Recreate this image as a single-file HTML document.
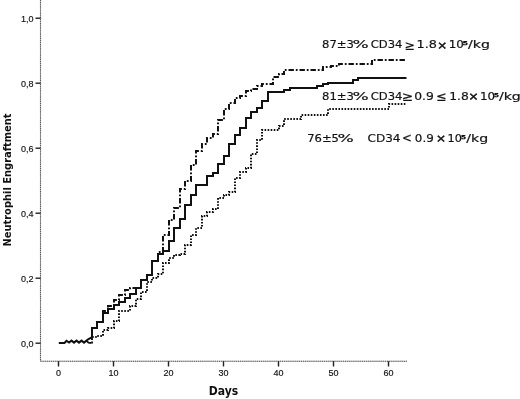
<!DOCTYPE html>
<html><head><meta charset="utf-8"><title>Neutrophil Engraftment</title>
<style>
html,body{margin:0;padding:0;background:#fff;}
svg{display:block;}
.t{font-family:"Liberation Sans",sans-serif;font-size:9px;fill:#111;stroke:#111;stroke-width:0.15px;}
.b{font-family:"DejaVu Sans Condensed","DejaVu Sans","Liberation Sans",sans-serif;font-weight:bold;fill:#111;}
.l{font-family:"DejaVu Sans","Liberation Sans",sans-serif;fill:#111;stroke:#111;stroke-width:0.18px;}
.s{font-family:"DejaVu Sans","Liberation Sans",sans-serif;font-size:7px;fill:#111;}
</style></head><body>
<svg width="520" height="399" viewBox="0 0 520 399">
<rect width="520" height="399" fill="#fff"/>
<g fill="none" stroke-width="1.1">
<path d="M40.5 0 V361.2 H407" stroke="#b5b5b5"/>
<path d="M40.5 0 V361.2 H407" stroke="#5a5a5a" stroke-dasharray="1.1 1"/>
</g>
<g stroke="#222" stroke-width="1.4" fill="none">
<path d="M35.5 18.2 H40.5"/>
<path d="M35.5 83.2 H40.5"/>
<path d="M35.5 148.2 H40.5"/>
<path d="M35.5 213.2 H40.5"/>
<path d="M35.5 278.2 H40.5"/>
<path d="M35.5 343.2 H40.5"/>
<path d="M58.5 361.2 V366.5"/>
<path d="M113.5 361.2 V366.5"/>
<path d="M168.5 361.2 V366.5"/>
<path d="M223.5 361.2 V366.5"/>
<path d="M278.5 361.2 V366.5"/>
<path d="M333.5 361.2 V366.5"/>
<path d="M388.5 361.2 V366.5"/>
</g>
<text class="t" x="33.5" y="21.5" text-anchor="end">1,0</text>
<text class="t" x="33.5" y="86.5" text-anchor="end">0,8</text>
<text class="t" x="33.5" y="151.5" text-anchor="end">0,6</text>
<text class="t" x="33.5" y="216.5" text-anchor="end">0,4</text>
<text class="t" x="33.5" y="281.5" text-anchor="end">0,2</text>
<text class="t" x="33.5" y="346.5" text-anchor="end">0,0</text>
<text class="t" x="58.5" y="376.3" text-anchor="middle">0</text>
<text class="t" x="113.5" y="376.3" text-anchor="middle">10</text>
<text class="t" x="168.5" y="376.3" text-anchor="middle">20</text>
<text class="t" x="223.5" y="376.3" text-anchor="middle">30</text>
<text class="t" x="278.5" y="376.3" text-anchor="middle">40</text>
<text class="t" x="333.5" y="376.3" text-anchor="middle">50</text>
<text class="t" x="388.5" y="376.3" text-anchor="middle">60</text>
<text class="b" x="223.5" y="395.2" text-anchor="middle" font-size="12">Days</text>
<text class="b" transform="translate(10.6 180) rotate(-90)" text-anchor="middle" font-size="11">Neutrophil Engraftment</text>
<g fill="none" stroke="#111" stroke-linejoin="miter">
<path d="M91.5 342.5 L92.0 342.5 L92.0 337.0 L97.0 337.0 L97.0 336.0 L103.0 336.0 L103.0 330.0 L108.0 330.0 L108.0 328.0 L114.0 328.0 L114.0 321.0 L119.0 321.0 L119.0 311.0 L130.0 311.0 L130.0 306.0 L136.0 306.0 L136.0 299.0 L141.0 299.0 L141.0 292.0 L147.0 292.0 L147.0 282.0 L152.0 282.0 L152.0 278.0 L158.0 278.0 L158.0 274.0 L163.0 274.0 L163.0 263.0 L169.0 263.0 L169.0 258.0 L174.0 258.0 L174.0 255.0 L180.0 255.0 L180.0 254.0 L185.0 254.0 L185.0 245.0 L191.0 245.0 L191.0 235.0 L196.0 235.0 L196.0 228.0 L202.0 228.0 L202.0 216.0 L207.0 216.0 L207.0 212.0 L213.0 212.0 L213.0 209.0 L218.0 209.0 L218.0 198.0 L224.0 198.0 L224.0 195.0 L229.0 195.0 L229.0 192.0 L235.0 192.0 L235.0 178.0 L240.0 178.0 L240.0 172.0 L246.0 172.0 L246.0 168.0 L251.0 168.0 L251.0 154.0 L257.0 154.0 L257.0 140.0 L262.0 140.0 L262.0 130.0 L279.0 130.0 L279.0 126.0 L284.0 126.0 L284.0 119.0 L301.0 119.0 L301.0 115.0 L328.0 115.0 L328.0 109.0 L389.0 109.0 L389.0 104.0 L406.5 104.0" stroke-width="2" stroke-dasharray="1.6 1.46"/>
<path d="M102.5 313.0 L103.0 313.0 L103.0 311.0 L108.0 311.0 L108.0 306.0 L114.0 306.0 L114.0 300.0 L119.0 300.0 L119.0 295.0 L125.0 295.0 L125.0 290.0 L130.0 290.0 L130.0 288.0 L136.0 288.0 L136.0 288.0 L141.0 288.0 L141.0 280.0 L147.0 280.0 L147.0 275.0 L152.0 275.0 L152.0 261.0 L158.0 261.0 L158.0 252.0 L163.0 252.0 L163.0 235.0 L169.0 235.0 L169.0 220.0 L174.0 220.0 L174.0 208.0 L180.0 208.0 L180.0 189.0 L185.0 189.0 L185.0 181.0 L191.0 181.0 L191.0 165.0 L196.0 165.0 L196.0 151.0 L202.0 151.0 L202.0 144.0 L207.0 144.0 L207.0 138.0 L213.0 138.0 L213.0 134.0 L218.0 134.0 L218.0 120.0 L224.0 120.0 L224.0 109.0 L229.0 109.0 L229.0 103.0 L235.0 103.0 L235.0 98.0 L240.0 98.0 L240.0 96.0 L246.0 96.0 L246.0 91.0 L251.0 91.0 L251.0 89.0 L257.0 89.0 L257.0 86.0 L262.0 86.0 L262.0 84.0 L273.0 84.0 L273.0 77.0 L279.0 77.0 L279.0 74.0 L284.0 74.0 L284.0 70.0 L323.0 70.0 L323.0 67.0 L331.0 67.0 L331.0 66.0 L339.0 66.0 L339.0 64.0 L372.0 64.0 L372.0 60.0 L406.5 60.0" stroke-width="2" stroke-dasharray="5.4 1.9 1.8 1.9"/>
<path d="M58.8 343.0 L64.5 343.0 L66.5 340.8 L69.0 342.6 L71.5 340.6 L74.0 342.6 L76.5 340.6 L79.0 342.6 L81.5 340.6 L84.0 342.6 L86.5 340.6 L88.5 339.0 L91.5 337.5 L91.5 337.5 L92.0 337.5 L92.0 328.0 L97.0 328.0 L97.0 322.0 L103.0 322.0 L103.0 313.0 L108.0 313.0 L108.0 309.0 L114.0 309.0 L114.0 305.0 L119.0 305.0 L119.0 302.0 L125.0 302.0 L125.0 298.0 L130.0 298.0 L130.0 294.0 L136.0 294.0 L136.0 288.0 L141.0 288.0 L141.0 280.0 L147.0 280.0 L147.0 275.0 L152.0 275.0 L152.0 261.0 L158.0 261.0 L158.0 254.0 L163.0 254.0 L163.0 251.0 L169.0 251.0 L169.0 241.0 L174.0 241.0 L174.0 228.0 L180.0 228.0 L180.0 219.0 L185.0 219.0 L185.0 205.0 L191.0 205.0 L191.0 195.0 L196.0 195.0 L196.0 185.0 L207.0 185.0 L207.0 176.0 L213.0 176.0 L213.0 173.0 L218.0 173.0 L218.0 164.0 L224.0 164.0 L224.0 156.0 L229.0 156.0 L229.0 144.0 L235.0 144.0 L235.0 135.0 L240.0 135.0 L240.0 128.0 L246.0 128.0 L246.0 118.0 L251.0 118.0 L251.0 112.0 L257.0 112.0 L257.0 108.0 L262.0 108.0 L262.0 101.0 L268.0 101.0 L268.0 92.0 L284.0 92.0 L284.0 90.0 L290.0 90.0 L290.0 88.0 L317.0 88.0 L317.0 86.0 L323.0 86.0 L323.0 84.0 L328.0 84.0 L328.0 83.0 L353.0 83.0 L353.0 80.0 L358.0 80.0 L358.0 78.0 L406.5 78.0" stroke-width="2"/>
<path d="M86.5 340.8 L88.5 342.6 L91.5 343" stroke-width="1.8"/>
</g>
<text class="l" x="322.02" y="48.25" font-size="10.6" textLength="31.93" lengthAdjust="spacingAndGlyphs">87±3</text>
<text class="l" x="352.50" y="48.25" font-size="10.6" textLength="16.25" lengthAdjust="spacingAndGlyphs">%</text>
<text class="l" x="370.71" y="48.25" font-size="10.6" textLength="31.68" lengthAdjust="spacingAndGlyphs">CD34</text>
<text class="l" x="404.83" y="49.95" font-size="13" textLength="10.46" lengthAdjust="spacingAndGlyphs">≥</text>
<text class="l" x="416.60" y="48.25" font-size="10.6" textLength="20.40" lengthAdjust="spacingAndGlyphs">1.8</text>
<text class="l" style="stroke-width:0.5px" x="437.27" y="48.65" font-size="10.5" textLength="9.93" lengthAdjust="spacingAndGlyphs">×</text>
<text class="l" x="448.70" y="48.25" font-size="10.6" textLength="15.09" lengthAdjust="spacingAndGlyphs">10</text>
<text class="l" style="stroke-width:0.5px" x="462.69" y="45.05" font-size="5.2" textLength="5.22" lengthAdjust="spacingAndGlyphs">5</text>
<text class="l" x="468.10" y="48.25" font-size="10.6" textLength="21.89" lengthAdjust="spacingAndGlyphs">/kg</text>
<text class="l" x="322.02" y="99.70" font-size="10.6" textLength="31.93" lengthAdjust="spacingAndGlyphs">81±3</text>
<text class="l" x="352.50" y="99.70" font-size="10.6" textLength="16.25" lengthAdjust="spacingAndGlyphs">%</text>
<text class="l" x="370.71" y="99.70" font-size="10.6" textLength="31.68" lengthAdjust="spacingAndGlyphs">CD34</text>
<text class="l" x="401.91" y="101.40" font-size="13" textLength="11.51" lengthAdjust="spacingAndGlyphs">≥</text>
<text class="l" x="414.23" y="99.70" font-size="10.6" textLength="19.59" lengthAdjust="spacingAndGlyphs">0.9</text>
<text class="l" x="436.31" y="101.40" font-size="13" textLength="10.59" lengthAdjust="spacingAndGlyphs">≤</text>
<text class="l" x="449.25" y="99.70" font-size="10.6" textLength="19.56" lengthAdjust="spacingAndGlyphs">1.8</text>
<text class="l" style="stroke-width:0.5px" x="468.51" y="100.10" font-size="10.5" textLength="10.00" lengthAdjust="spacingAndGlyphs">×</text>
<text class="l" x="479.95" y="99.70" font-size="10.6" textLength="15.14" lengthAdjust="spacingAndGlyphs">10</text>
<text class="l" style="stroke-width:0.5px" x="494.01" y="96.50" font-size="5.2" textLength="4.96" lengthAdjust="spacingAndGlyphs">5</text>
<text class="l" x="498.90" y="99.70" font-size="10.6" textLength="21.94" lengthAdjust="spacingAndGlyphs">/kg</text>
<text class="l" x="307.20" y="142.00" font-size="10.6" textLength="31.76" lengthAdjust="spacingAndGlyphs">76±5</text>
<text class="l" x="337.49" y="142.00" font-size="10.6" textLength="16.36" lengthAdjust="spacingAndGlyphs">%</text>
<text class="l" x="367.54" y="142.00" font-size="10.6" textLength="32.98" lengthAdjust="spacingAndGlyphs">CD34</text>
<text class="l" x="402.00" y="142.30" font-size="12.5" textLength="9.81" lengthAdjust="spacingAndGlyphs">&lt;</text>
<text class="l" x="414.86" y="142.00" font-size="10.6" textLength="18.94" lengthAdjust="spacingAndGlyphs">0.9</text>
<text class="l" style="stroke-width:0.5px" x="436.01" y="142.40" font-size="10.5" textLength="10.00" lengthAdjust="spacingAndGlyphs">×</text>
<text class="l" x="447.51" y="142.00" font-size="10.6" textLength="14.39" lengthAdjust="spacingAndGlyphs">10</text>
<text class="l" style="stroke-width:0.5px" x="460.90" y="138.80" font-size="5.2" textLength="5.09" lengthAdjust="spacingAndGlyphs">5</text>
<text class="l" x="466.25" y="142.00" font-size="10.6" textLength="21.89" lengthAdjust="spacingAndGlyphs">/kg</text>
</svg></body></html>
